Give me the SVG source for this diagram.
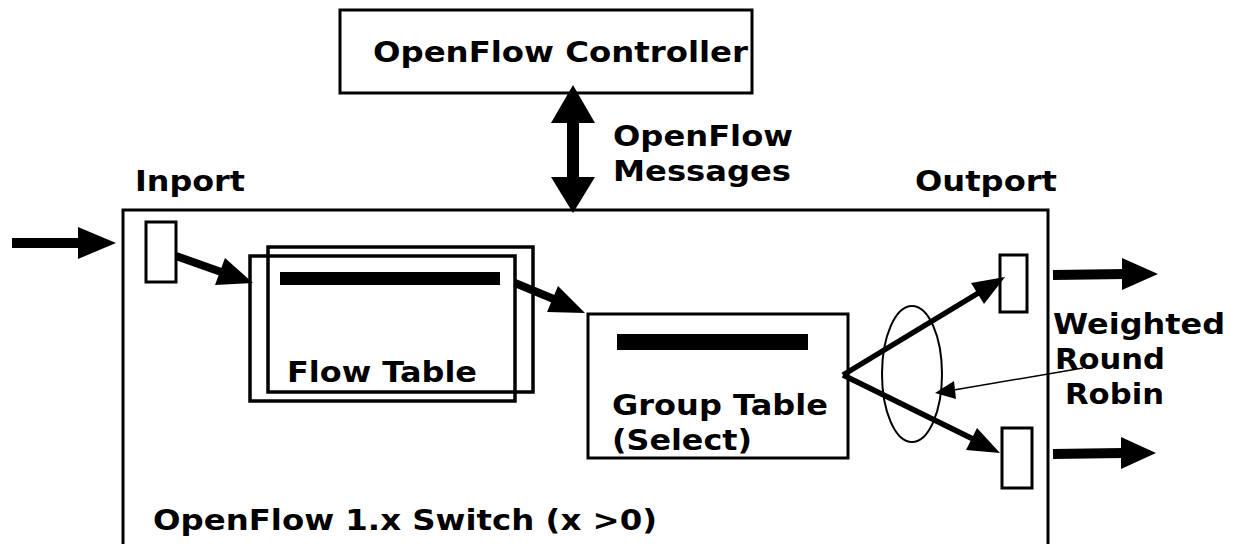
<svg xmlns="http://www.w3.org/2000/svg" width="1235" height="544" viewBox="0 0 1235 544">
<defs>
<style>
.t{font-family:"DejaVu Sans",sans-serif;font-weight:bold;font-size:29px;fill:#000}
.b{fill:#fff;stroke:#000;stroke-width:3}
.o{fill:none;stroke:#000;stroke-width:3.5}
.bar{fill:#000}
</style>
</defs>
<rect width="1235" height="544" fill="#fff"/>
<g id="switch"><rect class="b" x="123" y="210" width="925" height="340"/><text class="t" x="153" y="530" textLength="504" lengthAdjust="spacingAndGlyphs">OpenFlow 1.x Switch (x &gt;0)</text></g>
<g id="controller"><rect class="b" x="340" y="10" width="412" height="83"/><text class="t" x="373" y="62" textLength="375" lengthAdjust="spacingAndGlyphs">OpenFlow Controller</text></g>
<g id="labels">
<text class="t" x="613" y="146" textLength="180" lengthAdjust="spacingAndGlyphs">OpenFlow</text>
<text class="t" x="613" y="181" textLength="178" lengthAdjust="spacingAndGlyphs">Messages</text>
<text class="t" x="135" y="191" textLength="110" lengthAdjust="spacingAndGlyphs">Inport</text>
<text class="t" x="915" y="191" textLength="142" lengthAdjust="spacingAndGlyphs">Outport</text>
<text class="t" x="1053" y="334" textLength="172" lengthAdjust="spacingAndGlyphs">Weighted</text>
<text class="t" x="1055" y="369" textLength="110" lengthAdjust="spacingAndGlyphs">Round</text>
<text class="t" x="1065" y="404" textLength="99" lengthAdjust="spacingAndGlyphs">Robin</text>
</g>
<g id="inport"><rect class="b" x="146" y="222" width="30" height="60"/></g>
<g id="flowtable"><rect class="o" x="268" y="247" width="265" height="145"/><rect class="o" x="250" y="256" width="265" height="145"/><rect class="bar" x="280" y="272" width="220" height="13"/><text class="t" x="287" y="382" textLength="190" lengthAdjust="spacingAndGlyphs">Flow Table</text></g>
<g id="grouptable"><rect class="b" x="588" y="314" width="260" height="144"/><rect class="bar" x="617" y="334" width="191" height="16"/><text class="t" x="612" y="415" textLength="216" lengthAdjust="spacingAndGlyphs">Group Table</text><text class="t" x="612" y="450" textLength="140" lengthAdjust="spacingAndGlyphs">(Select)</text></g>
<g id="outport1"><rect class="b" x="1000" y="255" width="27" height="57"/></g>
<g id="outport2"><rect class="b" x="1002" y="428" width="30" height="60"/></g>
<g id="wrr"><ellipse cx="912" cy="374" rx="30" ry="68" fill="none" stroke="#000" stroke-width="2"/></g>
<g id="connectors">
<path d="M12,243 L82,243" stroke="#000" stroke-width="10"/><path d="M78,227 L116,243 L78,259 z"/>
<path d="M573,118 L573,182" stroke="#000" stroke-width="12"/><path d="M573,85 L551,123 L595,123 z"/><path d="M573,213 L551,177 L595,177 z"/>
<path d="M176,256 L224,273" stroke="#000" stroke-width="8"/><path d="M253,283 L215,285 L225,258 z"/>
<path d="M515,283 L556,300" stroke="#000" stroke-width="8"/><path d="M585,313 L547,312 L558,286 z"/>
<path d="M843,375 L980,292" stroke="#000" stroke-width="5.5"/><path d="M1005,277 L984,304 L971,283 z"/>
<path d="M843,375 L975,440" stroke="#000" stroke-width="5.5"/><path d="M1000,453 L966,450 L977,428 z"/>
<path d="M1053,275 L1125,274" stroke="#000" stroke-width="10"/><path d="M1122,258 L1158,274 L1122,290 z"/>
<path d="M1053,454 L1123,453" stroke="#000" stroke-width="10"/><path d="M1121,437 L1156,453 L1121,469 z"/>
<path d="M1083,368 L948,391" stroke="#000" stroke-width="1.5"/><path d="M935,393 L954,381 L956,399 z"/>
</g>
</svg>
